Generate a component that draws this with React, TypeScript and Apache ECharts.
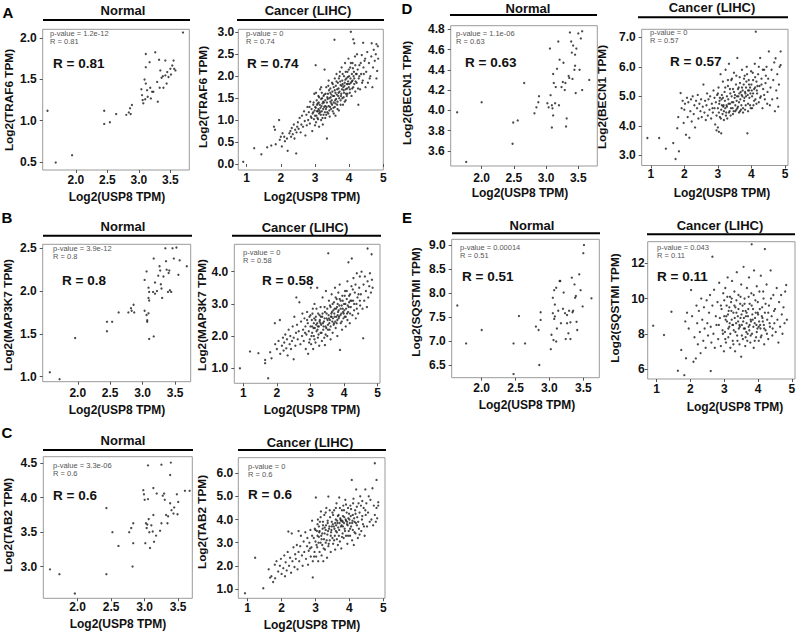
import React, { useEffect, useRef } from "react";
import * as echarts from "echarts";

// ---------------- DATA ----------------
const normalTRAF6: number[][] = [
  [1.55,1.12],[1.68,0.49],[1.94,0.58],[2.45,1.12],[2.45,0.96],[2.54,0.98],[2.64,1.08],[2.80,1.07],[2.84,1.10],[2.86,1.15],
  [2.87,1.08],[2.89,1.19],[3.04,1.38],[3.05,1.31],[3.06,1.25],[3.07,1.21],[3.09,1.50],[3.10,1.26],[3.11,1.81],[3.11,1.65],
  [3.11,1.45],[3.13,1.37],[3.14,1.29],[3.17,1.71],[3.18,1.40],[3.19,1.27],[3.21,1.35],[3.23,1.35],[3.26,1.83],[3.29,1.47],
  [3.30,1.23],[3.32,1.74],[3.33,1.40],[3.34,1.61],[3.36,1.52],[3.38,1.54],[3.39,1.40],[3.42,1.73],[3.42,1.55],[3.44,1.45],
  [3.45,1.59],[3.47,1.53],[3.50,1.63],[3.51,1.56],[3.53,1.67],[3.55,1.73],[3.56,1.63],[3.58,1.61],[3.70,2.07]
];
const cancerTRAF6: number[][] = [
  [0.9,0.05],[1.22,0.36],[1.43,0.22],[1.6,0.38],[1.72,0.42],[1.8,0.85],[1.83,0.78],[1.85,0.45],[1.95,1.0],[1.97,0.55],
  [2.0,0.62],[2.03,0.40],[2.05,0.70],[2.1,0.62],[2.12,0.52],[2.18,0.58],[2.2,0.3],[2.25,0.7],[2.28,0.75],[2.3,0.62],
  [2.32,0.82],[2.35,0.68],[2.38,0.9],[2.4,0.58],[2.42,0.78],[2.45,0.24],[2.46,0.72],[2.48,0.85],[2.5,0.95],
  [2.52,0.8],[2.55,1.05],[2.58,0.72],[2.6,0.9],[2.62,1.1],[2.65,0.85],[2.68,1.2],[2.7,0.98],[2.72,0.65],[2.75,1.12],
  [2.76,0.88],[2.78,1.3],[2.8,1.0],[2.82,1.18],[2.85,0.92],[2.86,1.42],[2.88,1.08],[2.9,1.25],[2.92,0.75],[2.93,1.15],
  [2.95,1.35],[2.97,1.02],[2.98,1.6],[2.99,1.22],
  [3.0,1.1],[3.01,1.3],[3.02,2.25],[3.03,0.95],[3.05,1.45],[3.06,1.2],[3.07,1.05],[3.08,1.38],[3.1,1.25],[3.1,1.55],
  [3.12,0.85],[3.12,1.15],[3.14,1.35],[3.15,1.7],[3.16,1.28],[3.18,1.0],[3.18,1.48],[3.2,1.2],[3.2,1.62],[3.22,1.38],
  [3.23,0.9],[3.25,1.12],[3.25,1.55],[3.27,1.3],[3.28,2.15],[3.3,1.45],[3.3,1.05],[3.32,1.25],[3.33,1.75],[3.35,1.4],
  [3.35,0.58],[3.36,1.18],[3.38,1.6],[3.4,1.32],[3.4,1.9],[3.42,1.5],[3.43,1.08],[3.45,1.42],[3.45,1.72],[3.47,1.25],
  [3.48,1.58],[3.5,1.35],[3.5,1.85],
  [3.52,1.2],[3.53,1.55],[3.55,1.75],[3.55,1.4],[3.57,2.83],[3.58,1.3],[3.58,1.95],[3.6,1.62],[3.6,1.1],[3.62,1.48],
  [3.63,2.05],[3.65,1.7],[3.65,1.35],[3.67,1.85],[3.68,1.55],[3.7,1.22],[3.7,1.95],[3.72,1.65],[3.73,2.1],[3.75,1.45],
  [3.75,1.8],[3.77,1.6],[3.78,2.2],[3.8,1.5],[3.8,1.9],[3.82,1.35],[3.83,1.75],[3.85,2.0],[3.85,1.62],[3.87,1.85],
  [3.88,2.3],[3.9,1.7],[3.9,1.45],[3.92,1.95],[3.93,1.82],[3.95,2.1],[3.95,1.6],[3.97,1.88],[3.98,2.4],[3.99,1.75],
  [4.0,2.0],[4.02,1.7],[4.03,2.2],[4.05,3.01],[4.05,1.85],[4.07,1.55],[4.08,2.05],[4.1,1.9],[4.1,2.3],[4.12,2.84],
  [4.12,1.75],[4.14,2.1],[4.15,2.75],[4.15,1.95],[4.17,2.45],[4.18,1.65],[4.2,2.05],[4.22,1.85],[4.23,2.5],[4.25,2.15],
  [4.27,1.35],[4.28,1.95],[4.3,2.25],[4.32,1.7],[4.35,2.05],[4.37,2.48],[4.4,1.9],[4.41,2.76],[4.42,2.2],[4.45,2.35],
  [4.48,1.75],[4.5,2.1],[4.53,2.55],[4.55,1.85],[4.58,2.3],[4.6,1.95],[4.62,2.0],[4.65,2.45],[4.66,2.75],[4.68,1.75],
  [4.7,2.2],[4.72,2.6],[4.75,2.35],[4.78,2.5],[4.8,2.73],[4.8,1.95],[4.82,2.12],[4.84,2.68],[4.85,2.4],
  [2.95,1.18],[3.02,1.28],[3.04,1.1],[3.08,1.2],[3.11,1.4],[3.13,1.22],[3.17,1.12],[3.19,1.32],[3.21,1.5],[3.24,1.25],
  [3.26,1.4],[3.29,1.18],[3.31,1.6],[3.34,1.3],[3.37,1.48],[3.39,1.15],[3.41,1.68],[3.44,1.3],[3.46,1.52],[3.49,1.45],
  [3.51,1.65],[3.54,1.28],[3.56,1.55],[3.59,1.45],[3.61,1.78],[3.64,1.58],[3.66,1.42],[3.69,1.72],[3.71,1.5],[3.74,1.88],
  [3.76,1.55],[3.79,1.7],[3.81,1.82],[3.84,1.52],[3.86,1.78],[3.89,1.92],[3.91,1.6],[3.94,1.72],[3.96,1.98],[4.01,1.82],
  [4.04,1.95],[4.09,1.72],[4.13,2.0],[4.19,1.88],
  [2.84,1.3],[2.9,1.05],[2.96,1.4],[3.0,0.88],[3.03,1.62],[3.06,1.35],[3.09,1.02],[3.12,1.52],[3.15,1.18],[3.18,1.75],
  [3.22,1.05],[3.24,1.42],[3.27,1.58],[3.3,1.32],[3.33,1.12],[3.36,1.52],[3.39,1.78],[3.42,1.22],[3.45,1.62],[3.48,1.38],
  [3.52,1.82],[3.55,1.15],[3.58,1.68],[3.6,1.38],[3.63,1.88],[3.66,1.25],[3.69,1.62],[3.72,2.0],[3.75,1.35],[3.78,1.78],
  [3.81,2.05],[3.84,1.68],[3.87,1.42],[3.9,2.1],[3.93,1.55],[3.96,1.82],[3.99,2.15],[4.02,1.62],[4.05,2.3],[4.08,1.88],
  [4.11,2.18],[4.15,1.82],[4.18,2.25],[4.22,2.05],[4.26,1.72],[4.3,2.0],[4.34,2.3],[4.38,1.85],[4.43,2.05],[4.47,2.4]
];
const normalMAP3K7: number[][] = [
  [1.57,1.05],[1.72,0.97],[1.96,1.45],[2.45,1.64],[2.45,1.53],[2.53,1.64],[2.63,1.75],[2.78,1.75],[2.82,1.80],[2.83,1.77],
  [2.86,1.84],[2.87,1.75],[3.03,2.13],[3.03,1.77],[3.06,2.23],[3.06,1.72],[3.07,1.66],[3.07,1.64],[3.09,2.04],[3.10,1.99],
  [3.09,1.92],[3.10,1.89],[3.09,1.74],[3.10,1.44],[3.16,1.99],[3.17,2.38],[3.19,2.10],[3.19,1.97],[3.22,2.00],[3.24,2.18],
  [3.26,2.29],[3.27,2.24],[3.28,2.08],[3.29,2.03],[3.30,1.92],[3.32,2.17],[3.35,2.50],[3.36,2.35],[3.37,2.25],[3.39,1.99],
  [3.40,2.21],[3.41,2.24],[3.42,2.01],[3.44,1.99],[3.46,2.50],[3.48,2.38],[3.52,2.51],[3.55,2.19],[3.57,2.36],[3.68,2.29],
  [3.17,1.47]
];
const cancerMAP3K7: number[][] = [
  [0.9,1.0],[1.2,1.52],[1.45,1.47],[1.65,1.26],[1.65,1.16],[1.74,0.69],[1.84,1.31],[1.8,1.5],[1.94,2.4],[1.95,1.75],
  [2.0,1.6],[2.05,1.85],[2.09,2.5],[2.1,1.45],[2.15,1.7],[2.18,1.95],[2.2,1.55],[2.22,1.8],[2.25,2.05],[2.28,1.62],
  [2.3,1.9],[2.32,1.4],[2.35,2.2],[2.38,1.75],[2.4,2.0],[2.42,1.6],[2.45,1.85],[2.47,2.3],[2.5,1.95],[2.5,1.28],
  [2.52,2.6],[2.55,1.7],[2.57,2.1],[2.58,3.2],[2.6,2.35],[2.62,1.9],[2.65,2.15],[2.67,3.05],[2.7,1.75],[2.72,2.45],
  [2.75,2.0],[2.76,2.7],[2.78,2.2],[2.8,1.85],[2.82,2.55],[2.85,2.3],[2.86,1.6],[2.88,2.05],[2.9,2.75],[2.92,2.4],
  [2.93,1.45],[2.95,2.15],[2.97,2.6],[2.98,1.9],
  [3.0,2.3],[3.01,3.5],[3.02,1.75],[3.04,2.5],[3.05,2.1],[3.07,2.85],[3.08,1.6],[3.1,2.4],[3.1,2.0],[3.12,3.0],
  [3.13,2.25],[3.15,1.8],[3.16,2.6],[3.18,2.15],[3.2,3.5],[3.2,2.4],[3.22,1.95],[3.23,2.7],[3.25,2.3],[3.26,1.7],
  [3.28,2.5],[3.3,2.9],[3.3,2.1],[3.32,2.35],[3.34,1.85],[3.35,2.6],[3.36,3.2],[3.38,2.2],[3.4,2.45],[3.41,1.95],
  [3.43,2.75],[3.43,1.72],[3.45,2.3],[3.46,3.4],[3.48,2.55],[3.5,2.0],[3.5,2.85],[3.53,4.57],
  [3.52,2.35],[3.54,2.65],[3.55,3.1],[3.57,2.2],[3.58,2.5],[3.6,2.9],[3.6,1.9],[3.62,2.7],[3.63,3.3],[3.65,2.45],
  [3.66,2.1],[3.68,2.8],[3.7,3.05],[3.7,2.4],[3.72,2.6],[3.73,3.5],[3.75,2.25],[3.76,2.85],[3.78,3.15],[3.8,2.5],
  [3.8,2.0],[3.82,2.75],[3.83,3.35],[3.85,2.6],[3.86,2.95],[3.87,3.6],[3.88,1.57],[3.9,2.4],[3.9,3.1],[3.92,2.7],
  [3.94,2.2],[3.95,3.25],[3.96,2.85],[3.98,2.55],
  [4.0,3.0],[4.02,2.6],[4.03,3.4],[4.05,2.3],[4.06,2.85],[4.08,3.15],[4.1,2.5],[4.1,3.7],[4.12,2.75],[4.13,4.29],
  [4.15,3.05],[4.17,2.4],[4.18,3.3],[4.2,2.9],[4.22,3.55],[4.23,4.41],[4.25,2.65],[4.27,3.1],[4.28,3.8],[4.3,2.8],
  [4.32,3.35],[4.35,2.55],[4.37,3.0],[4.38,3.95],[4.4,3.2],[4.42,2.7],[4.45,3.5],[4.47,3.85],[4.48,2.95],
  [4.5,3.3],[4.52,4.0],[4.55,2.85],[4.57,1.93],[4.58,3.6],[4.6,3.1],[4.62,3.85],[4.65,3.4],[4.68,2.9],[4.7,4.72],
  [4.7,3.7],[4.72,3.2],[4.75,3.55],[4.77,3.95],[4.8,3.35],[4.82,4.54],[4.83,3.75],[4.85,3.5],
  [3.05,2.3],[3.11,2.55],[3.17,2.35],[3.21,2.2],[3.27,2.45],[3.31,2.6],[3.37,2.4],[3.42,2.55],[3.47,2.25],[3.51,2.5],
  [3.56,2.4],[3.61,2.6],[3.64,2.75],[3.67,2.55],[3.71,2.7],[3.74,2.45],[3.77,2.6],[3.79,2.9],[3.81,2.65],[3.84,2.8],
  [3.89,2.65],[3.93,2.95],[3.97,2.75],[4.01,2.8],[4.04,3.0],[4.09,2.7],[4.14,2.9],[4.19,3.1],
  [2.84,2.1],[2.9,2.5],[2.96,1.8],[3.0,2.65],[3.03,2.0],[3.06,2.7],[3.09,2.25],[3.12,1.9],[3.15,2.5],[3.18,2.85],
  [3.22,2.3],[3.24,2.05],[3.27,2.65],[3.3,2.4],[3.33,2.1],[3.36,2.7],[3.39,2.3],[3.42,2.9],[3.45,2.05],[3.48,2.7],
  [3.52,2.2],[3.55,2.55],[3.58,2.95],[3.6,2.3],[3.63,2.6],[3.66,3.0],[3.69,2.35],[3.72,2.85],[3.75,3.2],[3.78,2.4],
  [3.81,3.0],[3.84,2.55],[3.87,3.15],[3.9,2.85],[3.93,2.45],[3.96,3.1],[3.99,2.7],[4.02,3.25],[4.05,2.6],[4.08,3.4],
  [4.11,2.95],[4.15,3.25],[4.18,2.7],[4.22,3.1],[4.26,3.45],[4.3,3.0],[4.34,3.6],[4.38,2.85],[4.43,3.3],[4.47,3.1]
];
const normalTAB2: number[][] = [
  [1.59,2.96],[1.73,2.89],[1.96,2.61],[2.43,3.85],[2.43,2.89],[2.52,3.50],[2.61,3.30],[2.77,3.50],[2.80,3.56],[2.83,3.63],
  [2.83,3.34],[2.82,3.00],[2.98,4.11],[2.99,4.05],[3.00,3.97],[3.01,3.34],[3.02,3.63],[3.03,3.56],[3.04,3.61],[3.05,4.47],
  [3.05,3.98],[3.06,3.69],[3.07,3.50],[3.08,3.27],[3.10,3.60],[3.12,3.51],[3.13,4.14],[3.13,3.75],[3.14,3.36],[3.17,3.45],
  [3.18,4.06],[3.23,3.52],[3.25,4.48],[3.25,3.63],[3.27,4.03],[3.29,4.06],[3.30,3.97],[3.32,3.75],[3.34,3.63],[3.35,3.73],
  [3.38,4.33],[3.38,3.92],[3.39,4.51],[3.40,3.82],[3.43,3.77],[3.44,3.86],[3.48,4.05],[3.49,3.76],[3.50,3.94],[3.60,4.10],
  [3.67,4.10]
];
const cancerTAB2: number[][] = [
  [0.92,0.81],[1.22,2.35],[1.46,1.03],[1.62,1.85],[1.66,1.49],[1.7,1.55],[1.75,1.3],[1.81,1.46],[1.8,2.05],[1.85,2.2],
  [1.9,1.75],[1.95,2.0],[1.98,2.3],[2.0,1.65],[2.05,1.9],[2.08,2.45],[2.1,1.55],[2.12,2.15],[2.15,1.8],[2.18,2.6],
  [2.2,3.48],[2.22,2.0],[2.25,2.35],[2.28,1.7],[2.3,3.4],[2.32,2.2],[2.35,2.8],[2.38,1.95],[2.4,2.5],[2.42,2.3],
  [2.45,2.9],[2.47,1.85],[2.5,2.6],[2.5,3.5],
  [2.52,2.2],[2.55,2.85],[2.57,3.3],[2.6,2.45],[2.62,2.0],[2.65,3.05],[2.67,2.6],[2.7,3.45],[2.72,2.3],[2.75,2.85],
  [2.76,3.2],[2.78,2.05],[2.8,2.65],[2.82,3.0],[2.85,3.55],[2.86,2.4],[2.88,2.8],[2.9,3.95],[2.92,1.5],[2.92,2.2],
  [2.95,3.2],[2.97,2.6],[2.98,3.6],
  [3.0,3.05],[3.01,4.95],[3.02,2.4],[3.04,3.5],[3.05,2.8],[3.07,4.0],[3.08,2.2],[3.1,3.25],[3.1,3.7],[3.12,2.6],
  [3.13,3.9],[3.15,3.0],[3.16,4.35],[3.18,2.45],[3.2,3.4],[3.2,2.9],[3.22,3.75],[3.23,2.2],[3.25,3.15],[3.26,4.2],
  [3.28,2.7],[3.3,3.55],[3.3,3.0],[3.32,4.5],[3.34,2.35],[3.35,3.35],[3.36,3.85],[3.38,4.99],[3.38,2.85],[3.4,3.6],
  [3.42,3.1],[3.43,4.1],[3.45,2.6],[3.46,3.45],[3.48,3.9],[3.5,3.2],[3.5,4.3],
  [3.52,2.95],[3.54,3.7],[3.55,4.4],[3.57,3.3],[3.58,2.7],[3.6,4.0],[3.6,3.5],[3.62,4.7],[3.63,3.15],[3.65,3.85],
  [3.66,2.9],[3.68,4.2],[3.7,3.55],[3.7,4.95],[3.72,3.05],[3.73,4.05],[3.75,3.7],[3.76,2.75],[3.78,4.4],[3.8,3.4],
  [3.8,3.9],[3.82,4.6],[3.83,3.2],[3.85,4.1],[3.86,3.6],[3.88,4.85],[3.9,3.3],[3.9,3.95],[3.92,4.3],[3.94,2.95],
  [3.95,3.75],[3.96,4.5],[3.98,3.5],
  [4.0,4.0],[4.02,3.3],[4.03,4.6],[4.05,3.7],[4.07,5.71],[4.08,3.1],[4.1,4.2],[4.1,3.55],[4.12,4.9],[4.13,2.9],
  [4.15,3.9],[4.17,4.4],[4.18,3.4],[4.2,5.3],[4.22,3.75],[4.23,4.1],[4.25,3.2],[4.27,4.7],[4.28,3.6],[4.3,4.3],
  [4.32,5.0],[4.35,3.5],[4.37,4.0],[4.38,4.8],[4.4,3.8],[4.42,4.5],[4.45,3.3],[4.47,5.3],[4.48,4.2],
  [4.5,4.7],[4.52,3.7],[4.55,4.3],[4.57,5.0],[4.6,3.9],[4.62,4.85],[4.65,4.0],[4.68,5.35],[4.7,3.75],[4.72,4.6],
  [4.75,6.43],[4.75,4.2],[4.78,3.9],[4.8,5.71],[4.8,4.5],[4.82,4.05],[4.85,4.75],[4.85,4.6],
  [3.06,3.3],[3.11,3.45],[3.17,3.3],[3.21,3.6],[3.27,3.4],[3.31,3.75],[3.37,3.5],[3.41,3.7],[3.47,3.55],[3.51,3.8],
  [3.56,3.6],[3.61,3.75],[3.64,3.95],[3.67,3.65],[3.71,3.85],[3.74,4.0],[3.77,3.75],[3.79,3.95],[3.81,4.15],[3.84,3.85],
  [3.89,4.0],[3.93,3.8],[3.97,4.05],[4.01,3.85],[4.04,4.15],[4.09,3.95],[4.14,4.05],[4.19,3.85],
  [2.84,2.75],[2.9,3.3],[2.96,2.4],[3.0,3.55],[3.03,2.9],[3.06,3.8],[3.09,3.0],[3.12,3.5],[3.15,4.1],[3.18,3.15],
  [3.22,3.9],[3.24,2.75],[3.27,3.65],[3.3,4.3],[3.33,3.1],[3.36,3.95],[3.39,2.95],[3.42,4.4],[3.45,3.3],[3.48,3.7],
  [3.52,4.2],[3.55,3.1],[3.58,3.85],[3.6,4.5],[3.63,3.45],[3.66,4.15],[3.69,3.3],[3.72,4.5],[3.75,3.95],[3.78,3.25],
  [3.81,3.7],[3.84,4.4],[3.87,3.5],[3.9,4.65],[3.93,3.9],[3.96,3.3],[3.99,4.25],[4.02,3.6],[4.05,4.45],[4.08,3.85],
  [4.11,4.7],[4.15,3.45],[4.18,4.25],[4.22,4.55],[4.26,3.9],[4.3,3.35],[4.34,4.6],[4.38,4.15],[4.43,3.7],[4.47,4.4]
];
const normalBECN1: number[][] = [
  [1.62,3.98],[1.76,3.49],[2.0,4.08],[2.48,3.67],[2.49,3.88],[2.56,3.90],[2.66,4.27],[2.82,3.97],[2.85,4.03],[2.88,4.08],
  [2.89,4.14],[3.02,4.07],[3.04,4.03],[3.06,4.61],[3.07,4.15],[3.09,4.05],[3.09,3.83],[3.10,4.02],[3.11,4.36],[3.11,3.95],
  [3.12,4.27],[3.14,4.07],[3.15,4.23],[3.17,4.41],[3.19,4.68],[3.20,4.05],[3.21,4.50],[3.24,4.23],[3.26,4.28],[3.27,4.47],
  [3.29,4.20],[3.30,4.27],[3.31,3.84],[3.32,3.92],[3.35,4.34],[3.36,4.32],[3.37,4.77],[3.39,4.68],[3.40,4.57],[3.41,4.31],
  [3.42,4.64],[3.44,4.40],[3.45,4.44],[3.46,4.17],[3.45,4.55],[3.47,4.61],[3.50,4.76],[3.52,4.40],[3.54,4.71],[3.56,4.20],
  [3.56,4.78],[3.67,4.30]
];
const cancerBECN1: number[][] = [
  [0.9,3.59],[1.25,3.59],[1.45,3.23],[1.67,3.42],[1.74,2.88],[1.79,3.92],[1.82,4.3],[1.84,3.14],[1.89,5.11],[1.92,4.6],
  [1.95,4.85],[1.98,4.1],[2.0,4.55],[2.02,4.75],[2.05,3.7],[2.08,4.95],[2.1,4.3],[2.12,4.8],[2.15,3.6],[2.18,4.5],
  [2.2,4.9],[2.22,4.15],[2.25,5.0],[2.28,4.4],[2.3,4.7],[2.32,3.95],[2.35,4.85],[2.38,4.6],[2.4,5.05],[2.42,4.25],
  [2.45,4.75],[2.48,4.5],[2.5,4.9],
  [2.52,4.3],[2.55,4.65],[2.57,5.4],[2.6,4.45],[2.62,4.85],[2.64,4.2],[2.66,4.7],[2.68,5.1],[2.7,4.35],[2.72,4.9],
  [2.75,4.55],[2.77,5.0],[2.8,4.25],[2.82,4.75],[2.85,4.45],[2.87,5.2],[2.9,4.6],[2.92,4.05],[2.94,4.8],[2.96,3.85],
  [2.98,5.05],
  [3.0,3.95],[3.0,4.6],[3.02,5.3],[3.03,3.8],[3.05,4.85],[3.06,4.3],[3.08,5.75],[3.1,4.55],[3.1,3.75],[3.12,5.05],
  [3.14,4.4],[3.15,5.5],[3.17,4.7],[3.18,4.2],[3.2,5.15],[3.22,4.6],[3.23,5.9],[3.25,4.45],[3.27,5.0],[3.28,4.25],
  [3.3,5.35],[3.32,4.75],[3.33,6.1],[3.35,4.5],[3.37,5.1],[3.38,4.35],[3.4,5.55],[3.42,4.8],[3.44,4.6],[3.45,5.25],
  [3.47,4.5],[3.48,5.8],[3.5,4.95],
  [3.52,4.7],[3.54,5.4],[3.55,4.55],[3.57,5.0],[3.58,6.3],[3.6,4.65],[3.62,5.3],[3.63,4.8],[3.65,5.65],[3.66,4.5],
  [3.68,5.15],[3.7,4.7],[3.72,5.9],[3.73,5.0],[3.75,4.6],[3.77,5.4],[3.78,4.85],[3.8,5.7],[3.82,5.1],[3.83,4.7],
  [3.85,5.5],[3.86,6.0],[3.88,3.75],[3.9,5.2],[3.9,4.75],[3.92,5.55],[3.94,4.95],[3.96,5.3],[3.98,4.6],
  [4.0,5.4],[4.02,5.0],[4.04,5.8],[4.06,4.7],[4.08,5.25],[4.1,6.1],[4.12,4.9],[4.13,7.19],[4.15,5.5],[4.17,5.1],
  [4.2,5.75],[4.22,4.8],[4.24,5.35],[4.26,6.3],[4.28,5.0],[4.3,5.6],[4.33,4.6],[4.35,5.25],[4.38,5.9],[4.4,4.9],
  [4.42,5.45],[4.45,6.0],[4.48,5.15],
  [4.5,5.6],[4.52,6.52],[4.55,4.7],[4.57,5.3],[4.6,5.9],[4.62,4.9],[4.65,5.55],[4.68,6.15],[4.7,4.5],[4.72,6.29],
  [4.74,5.2],[4.77,4.94],[4.77,5.75],[4.8,4.65],[4.82,5.4],[4.84,6.0],[4.87,6.52],[4.87,6.06],
  [3.04,4.75],[3.11,4.9],[3.16,4.65],[3.21,4.85],[3.26,4.7],[3.31,4.9],[3.36,4.75],[3.41,5.0],[3.46,4.8],[3.51,5.05],
  [3.56,4.85],[3.61,5.0],[3.64,5.1],[3.67,4.9],[3.71,5.05],[3.74,5.2],[3.79,4.95],[3.81,5.15],[3.84,5.3],[3.89,5.05],
  [3.93,5.2],[3.97,5.1],[4.01,5.2],[4.05,5.1],[4.11,5.3],[4.16,5.2],
  [2.84,4.6],[2.9,4.95],[2.96,4.35],[3.0,5.1],[3.03,4.45],[3.06,4.95],[3.09,4.25],[3.12,4.7],[3.15,4.95],[3.18,4.5],
  [3.22,5.3],[3.24,4.35],[3.27,4.65],[3.3,5.55],[3.33,4.45],[3.36,5.25],[3.39,4.6],[3.42,5.6],[3.45,4.4],[3.48,5.15],
  [3.52,4.5],[3.55,5.7],[3.58,4.6],[3.6,5.25],[3.63,4.45],[3.66,5.45],[3.69,4.55],[3.72,5.3],[3.75,4.45],[3.78,5.6],
  [3.81,4.55],[3.84,5.0],[3.87,5.75],[3.9,4.5],[3.93,5.4],[3.96,4.7],[3.99,5.85],[4.02,4.6],[4.05,5.55],[4.08,4.85],
  [4.11,5.65],[4.15,4.75],[4.18,5.35],[4.22,6.0],[4.26,4.95],[4.3,5.4],[4.34,5.9],[4.38,5.05],[4.43,5.7],[4.47,4.75]
];
const normalSQSTM1: number[][] = [
  [1.64,7.74],[1.77,6.95],[2.0,7.23],[2.47,6.95],[2.47,6.31],[2.55,7.52],[2.64,6.95],[2.80,7.30],[2.84,7.23],[2.85,6.50],
  [2.87,7.44],[2.87,7.60],[3.02,6.83],[3.03,7.13],[3.05,7.90],[3.05,7.58],[3.06,7.02],[3.07,8.06],[3.07,7.46],[3.08,7.51],
  [3.08,7.76],[3.10,6.99],[3.10,8.11],[3.11,7.26],[3.13,7.63],[3.15,8.25],[3.16,8.25],[3.17,7.37],[3.20,7.67],[3.21,8.01],
  [3.23,7.58],[3.24,7.04],[3.26,7.37],[3.26,7.54],[3.28,7.16],[3.29,7.63],[3.31,7.39],[3.31,7.04],[3.33,8.32],[3.34,7.60],
  [3.35,7.63],[3.37,8.18],[3.38,7.90],[3.39,7.94],[3.40,7.40],[3.41,7.23],[3.44,8.39],[3.46,8.06],[3.49,7.72],[3.50,8.83],
  [3.51,9.00],[3.62,7.89]
];
const cancerSQSTM1: number[][] = [
  [0.9,8.46],[1.22,7.93],[1.44,9.25],[1.63,5.9],[1.73,7.08],[1.82,5.65],[1.87,6.61],[1.85,8.7],[1.9,9.2],[1.95,8.3],
  [2.02,10.48],[2.05,9.0],[2.09,6.41],[2.12,7.8],[2.16,6.6],[2.18,9.6],[2.2,8.6],[2.22,7.4],[2.25,9.3],[2.28,8.1],
  [2.3,6.9],[2.32,10.0],[2.35,8.8],[2.38,7.6],[2.4,9.5],[2.42,8.3],[2.45,7.2],[2.48,9.9],[2.5,8.6],
  [2.52,7.9],[2.55,9.2],[2.58,10.2],[2.6,5.88],[2.6,8.4],[2.62,7.5],[2.65,12.38],[2.65,9.6],[2.68,8.0],[2.7,10.5],
  [2.72,7.2],[2.75,9.0],[2.77,8.5],[2.8,9.8],[2.82,7.7],[2.85,10.9],[2.87,8.9],[2.9,7.3],[2.92,9.4],[2.95,8.2],
  [2.97,10.3],[2.99,7.0],
  [3.0,9.0],[3.02,8.1],[3.03,10.6],[3.05,7.5],[3.07,9.6],[3.08,8.7],[3.1,11.2],[3.12,7.8],[3.13,9.3],[3.15,8.4],
  [3.17,10.1],[3.18,7.2],[3.2,9.8],[3.22,8.8],[3.23,11.0],[3.25,7.6],[3.27,9.2],[3.28,8.2],[3.3,10.4],[3.32,7.0],
  [3.33,9.5],[3.35,8.6],[3.37,11.5],[3.38,7.9],[3.4,9.0],[3.42,10.2],[3.43,8.3],[3.45,7.4],[3.47,9.7],[3.48,8.9],
  [3.5,6.7],[3.5,10.8],
  [3.52,8.5],[3.54,9.6],[3.55,7.7],[3.57,11.8],[3.58,8.9],[3.6,10.0],[3.62,7.3],[3.63,9.3],[3.65,8.1],[3.67,10.6],
  [3.68,7.6],[3.7,9.0],[3.72,8.4],[3.73,11.2],[3.75,9.7],[3.77,7.5],[3.78,8.8],[3.8,10.3],[3.81,13.08],[3.82,8.0],
  [3.85,9.4],[3.87,7.2],[3.88,11.6],[3.9,8.6],[3.92,9.9],[3.94,7.8],[3.96,10.7],[3.98,8.3],
  [4.0,9.1],[4.02,7.6],[4.04,10.4],[4.06,8.5],[4.08,11.3],[4.1,7.9],[4.12,9.5],[4.14,8.7],[4.16,10.0],[4.18,7.4],
  [4.2,12.81],[4.2,9.2],[4.22,8.2],[4.25,10.8],[4.27,8.8],[4.3,7.7],[4.32,9.6],[4.35,8.4],[4.37,11.6],[4.4,9.0],
  [4.42,7.9],[4.45,10.2],[4.48,8.6],
  [4.5,9.4],[4.52,8.1],[4.55,10.6],[4.57,8.8],[4.6,7.5],[4.62,9.8],[4.65,8.4],[4.68,10.2],[4.7,9.1],[4.72,8.0],
  [4.75,9.5],[4.78,8.6],[4.8,10.4],[4.83,10.77],[4.85,8.8],
  [3.04,8.8],[3.11,9.1],[3.16,8.6],[3.21,9.3],[3.26,8.5],[3.31,8.9],[3.36,9.2],[3.41,8.7],[3.46,8.4],[3.51,9.1],
  [3.56,8.7],[3.61,8.3],[3.64,9.0],[3.66,8.6],[3.71,9.4],[3.74,8.2],[3.79,8.7],[3.83,9.1],[3.86,8.4],[3.91,8.9],
  [3.95,8.5],[3.99,9.2],[4.03,8.7],[4.07,8.3],[4.13,8.9],[4.17,8.5],
  [2.84,8.5],[2.9,9.6],[2.96,8.0],[3.0,9.9],[3.03,7.7],[3.06,9.0],[3.09,10.1],[3.12,8.3],[3.15,9.5],[3.18,8.0],
  [3.22,10.0],[3.24,8.5],[3.27,7.4],[3.3,9.6],[3.33,8.1],[3.36,9.9],[3.39,7.6],[3.42,9.4],[3.45,8.5],[3.48,10.1],
  [3.52,7.9],[3.55,9.3],[3.58,8.3],[3.6,9.7],[3.63,7.8],[3.66,9.2],[3.69,8.0],[3.72,10.1],[3.75,8.5],[3.78,7.9],
  [3.81,9.6],[3.84,8.8],[3.87,10.2],[3.9,7.6],[3.93,9.2],[3.96,8.1],[3.99,9.8],[4.02,8.4],[4.05,9.4],[4.08,7.8],
  [4.11,9.0],[4.15,10.4],[4.18,8.3],[4.22,9.7],[4.26,8.0],[4.3,9.2],[4.34,8.6],[4.38,10.0],[4.43,8.3],[4.47,9.3]
];

// tick labels
const normalXTicks = [2.0, 2.5, 3.0, 3.5];
const cancerXTicks = [1, 2, 3, 4, 5];
const yTicksAN = [0.5, 1.0, 1.5, 2.0];
const yTicksAC = [0.0, 0.5, 1.0, 1.5, 2.0, 2.5, 3.0];
const yTicksBN = [1.0, 1.5, 2.0, 2.5];
const yTicksBC = [1.0, 2.0, 3.0, 4.0];
const yTicksCN = [3.0, 3.5, 4.0, 4.5];
const yTicksCC = [1.0, 2.0, 3.0, 4.0, 5.0, 6.0];
const yTicksDN = [3.6, 3.8, 4.0, 4.2, 4.4, 4.6, 4.8];
const yTicksDC = [3.0, 4.0, 5.0, 6.0, 7.0];
const yTicksEN = [6.5, 7.0, 7.5, 8.0, 8.5, 9.0];
const yTicksEC = [6, 8, 10, 12];

// texts
const panelLetters = ["A", "B", "C", "D", "E"];
const groupTitles = ["Normal", "Cancer (LIHC)"];
const xTitle = "Log2(USP8 TPM)";
const genes = ["TRAF6", "MAP3K7", "TAB2", "BECN1", "SQSTMI"];
const pValues = ["1.2e-12", "0", "3.9e-12", "0", "3.3e-06", "0", "1.1e-06", "0", "0.00014", "0.043"];
const rValues = ["0.81", "0.74", "0.8", "0.58", "0.6", "0.6", "0.63", "0.57", "0.51", "0.11"];

// ---------------- LAYOUT ----------------
const FONT = '"Liberation Sans", Arial, Helvetica, sans-serif';

type Panel = {
  data: number[][];
  box: number[]; // l,t,r,b
  xr: number[];
  yr: number[];
  xt: number[];
  yt: number[];
  xDec: number;
  yDec: number;
  xm: number;
  ym: number;
  gene: number;
  title: number;
  bar: number[]; // x1,x2,y
  tXY: number[];
  yTXY: number[];
  xTXY: number[];
  pXY: number[];
  rXY: number[];
};

const panels: Panel[] = [
  { data: normalTRAF6, box: [42.7, 29.3, 189.3, 170], xr: [1.474, 3.8], yr: [0.4, 2.11], xt: normalXTicks, yt: yTicksAN, xDec: 1, yDec: 1, xm: 4, ym: 6,
    gene: 0, title: 0, bar: [43, 190, 20], tXY: [123, 10], yTXY: [9, 100], xTXY: [117, 197], pXY: [50, 33], rXY: [53, 63] },
  { data: cancerTRAF6, box: [238.3, 29.3, 383.3, 170], xr: [0.755, 5.0], yr: [-0.137, 3.068], xt: cancerXTicks, yt: yTicksAC, xDec: 0, yDec: 1, xm: 2, ym: 4,
    gene: 0, title: 1, bar: [237, 384, 20], tXY: [308, 10], yTXY: [203, 97], xTXY: [312, 197], pXY: [246, 33], rXY: [247, 63] },
  { data: normalMAP3K7, box: [42.7, 244.3, 190.7, 381.7], xr: [1.46, 3.74], yr: [0.94, 2.547], xt: normalXTicks, yt: yTicksBN, xDec: 1, yDec: 1, xm: 5, ym: 6,
    gene: 1, title: 0, bar: [43, 192, 235.7], tXY: [123, 226], yTXY: [8, 315], xTXY: [117, 410], pXY: [53, 248], rXY: [62, 280] },
  { data: cancerMAP3K7, box: [234.3, 244.3, 380, 383.3], xr: [0.732, 5.07], yr: [0.534, 4.85], xt: cancerXTicks, yt: yTicksBC, xDec: 0, yDec: 1, xm: 4, ym: 6,
    gene: 1, title: 1, bar: [232, 381, 235.7], tXY: [305, 227], yTXY: [202, 315], xTXY: [312, 410], pXY: [243, 252], rXY: [262, 280] },
  { data: normalTAB2, box: [43.3, 456.7, 192.3, 598.3], xr: [1.49, 3.71], yr: [2.54, 4.596], xt: normalXTicks, yt: yTicksCN, xDec: 1, yDec: 1, xm: 3, ym: 6,
    gene: 2, title: 0, bar: [43, 193, 450], tXY: [123, 440], yTXY: [8, 525], xTXY: [118, 624], pXY: [53, 465], rXY: [53, 495] },
  { data: cancerTAB2, box: [238.3, 457.7, 385, 598.3], xr: [0.723, 5.05], yr: [0.597, 6.67], xt: cancerXTicks, yt: yTicksCC, xDec: 0, yDec: 1, xm: 3.5, ym: 5,
    gene: 2, title: 1, bar: [238, 386, 450], tXY: [310, 442], yTXY: [202, 522], xTXY: [312, 625], pXY: [248, 466], rXY: [248, 494] },
  { data: normalBECN1, box: [450.7, 25.7, 597.3, 166], xr: [1.52, 3.795], yr: [3.45, 4.836], xt: normalXTicks, yt: yTicksDN, xDec: 1, yDec: 1, xm: 6, ym: 6,
    gene: 3, title: 0, bar: [450, 597, 15], tXY: [528, 8], yTXY: [407, 93], xTXY: [520, 193], pXY: [456, 33], rXY: [465, 62] },
  { data: cancerBECN1, box: [641.7, 29.3, 788, 165.5], xr: [0.73, 5.09], yr: [2.66, 7.27], xt: cancerXTicks, yt: yTicksDC, xDec: 0, yDec: 1, xm: 2.5, ym: 6,
    gene: 3, title: 1, bar: [638, 788, 17.3], tXY: [712, 7.5], yTXY: [602, 97], xTXY: [722, 193], pXY: [650, 32], rXY: [670, 61] },
  { data: normalSQSTM1, box: [451.7, 239.3, 599.3, 377.7], xr: [1.557, 3.736], yr: [6.235, 9.12], xt: normalXTicks, yt: yTicksEN, xDec: 1, yDec: 1, xm: 4.3, ym: 6,
    gene: 4, title: 0, bar: [452, 600, 233.3], tXY: [532, 225], yTXY: [416, 302], xTXY: [527, 405], pXY: [460, 247], rXY: [462, 276] },
  { data: cancerSQSTM1, box: [647.7, 241.7, 795, 379], xr: [0.738, 5.09], yr: [5.43, 13.23], xt: cancerXTicks, yt: yTicksEC, xDec: 0, yDec: 0, xm: 4, ym: 3,
    gene: 4, title: 1, bar: [647, 795, 234.3], tXY: [720, 225], yTXY: [615, 308], xTXY: [735, 407], pXY: [657, 247], rXY: [657, 276] },
];

const letterXY = [[8, 12], [7, 217], [7, 432], [407, 8.5], [407, 217]];

function text(x: number, y: number, t: string, size: number, weight: string, fill: string, align = "center", rot = 0) {
  return {
    type: "text", x, y, rotation: rot, silent: true,
    style: { text: t, fontSize: size, fontWeight: weight, fontFamily: FONT, fill,
      textAlign: align, align, textVerticalAlign: "middle", verticalAlign: "middle" },
  };
}

export default function App() {
  const ref = useRef<HTMLDivElement>(null);
  useEffect(() => {
    if (!ref.current) return;
    const chart = echarts.init(ref.current, undefined, { renderer: "svg" });
    const grid: any[] = [];
    const xAxis: any[] = [];
    const yAxis: any[] = [];
    const series: any[] = [];
    const graphic: any[] = [];
    panels.forEach((p, i) => {
      const [l, t, r, b] = p.box;
      grid.push({ left: l, top: t, width: r - l, height: b - t, show: true, borderColor: "#9a9a9a", borderWidth: 1,
        containLabel: false, outerBoundsMode: "none" });
      const lab = (dec: number) => (v: number) => v.toFixed(dec);
      xAxis.push({ gridIndex: i, type: "value", min: p.xr[0], max: p.xr[1],
        axisLine: { show: false }, splitLine: { show: false },
        axisTick: { show: true, length: 3, customValues: p.xt, lineStyle: { color: "#555", width: 1 } },
        axisLabel: { customValues: p.xt, formatter: lab(p.xDec), fontSize: 12, fontWeight: "bold", fontFamily: FONT, color: "#111", margin: p.xm } });
      yAxis.push({ gridIndex: i, type: "value", min: p.yr[0], max: p.yr[1],
        axisLine: { show: false }, splitLine: { show: false },
        axisTick: { show: true, length: 3, customValues: p.yt, lineStyle: { color: "#555", width: 1 } },
        axisLabel: { customValues: p.yt, formatter: lab(p.yDec), fontSize: 12, fontWeight: "bold", fontFamily: FONT, color: "#111", margin: p.ym } });
      series.push({ type: "scatter", xAxisIndex: i, yAxisIndex: i, data: p.data, symbolSize: 2.3, silent: true,
        itemStyle: { color: "#1c1c1c" } });
      graphic.push({ type: "line", silent: true, shape: { x1: p.bar[0], y1: p.bar[2], x2: p.bar[1], y2: p.bar[2] },
        style: { stroke: "#000", lineWidth: 2 } });
      graphic.push(text(p.tXY[0], p.tXY[1], groupTitles[p.title], 13, "bold", "#111"));
      graphic.push(text(p.yTXY[0], p.yTXY[1], "Log2(" + genes[p.gene] + " TPM)", 11.8, "bold", "#111", "center", Math.PI / 2));
      graphic.push(text(p.xTXY[0], p.xTXY[1], xTitle, 12, "bold", "#111"));
      graphic.push(text(p.pXY[0], p.pXY[1], "p-value = " + pValues[i], 7.5, "normal", "#555", "left"));
      graphic.push(text(p.pXY[0], p.pXY[1] + 8.5, "R = " + rValues[i], 7.5, "normal", "#555", "left"));
      graphic.push(text(p.rXY[0], p.rXY[1], "R = " + rValues[i], 13.5, "bold", "#111", "left"));
    });
    panelLetters.forEach((L, k) => {
      graphic.push(text(letterXY[k][0], letterXY[k][1], L, 15, "bold", "#000"));
    });
    chart.setOption({ animation: false, backgroundColor: "#fff", grid, xAxis, yAxis, series, graphic });
    return () => chart.dispose();
  }, []);
  return <div ref={ref} style={{ position: "absolute", left: 0, top: 0, width: 796, height: 633 }} />;
}
